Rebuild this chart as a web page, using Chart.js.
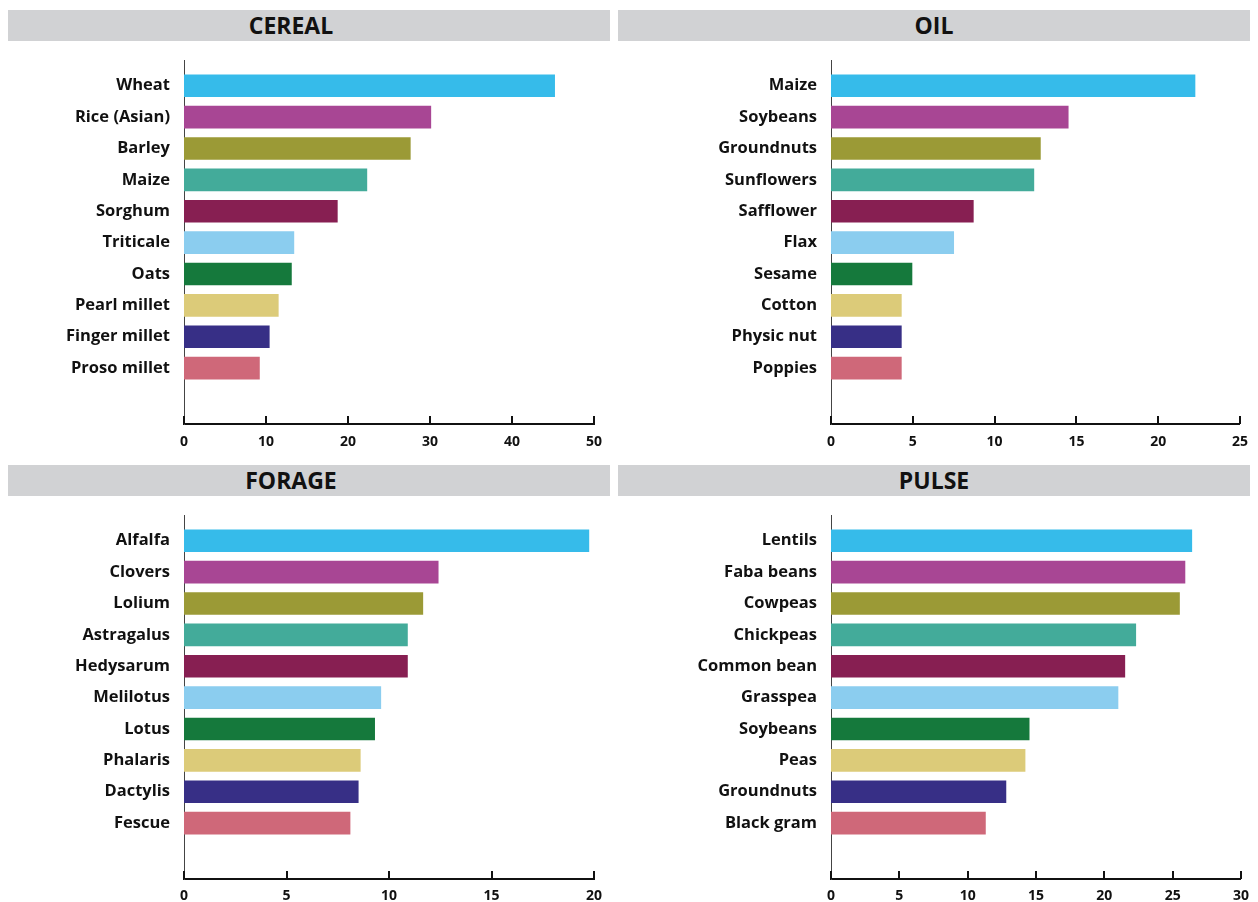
<!DOCTYPE html>
<html>
<head>
<meta charset="utf-8">
<script src="https://cdn.jsdelivr.net/npm/chart.js@4.4.1/dist/chart.umd.min.js"></script>
<style>
  body { margin: 0; background: #fff; font-family: "Open Sans", sans-serif; }
  #wrap { position: relative; width: 1258px; height: 902px; overflow: hidden; }
  .head {
    position: absolute; height: 31px; line-height: 31px; background: #d1d2d4;
    color: #111; font-weight: 700; font-size: 23px; text-align: center;
  }
  canvas { position: absolute; }
</style>
</head>
<body>
<div id="wrap">
  <div class="head" style="left:8px;top:10px;width:566px;padding-right:36px">CEREAL</div>
  <div class="head" style="left:618px;top:10px;width:632px;">OIL</div>
  <div class="head" style="left:8px;top:465px;width:566px;padding-right:36px">FORAGE</div>
  <div class="head" style="left:618px;top:465px;width:632px;">PULSE</div>
  <canvas id="cereal" width="618" height="419" style="left:0;top:41px"></canvas>
  <canvas id="oil" width="640" height="419" style="left:618px;top:41px"></canvas>
  <canvas id="forage" width="618" height="406" style="left:0;top:496px"></canvas>
  <canvas id="pulse" width="640" height="406" style="left:618px;top:496px"></canvas>
</div>
<script>
// same colour order in every panel, top bar to bottom bar
const barColors = ["#36bbea", "#a84694", "#9b9a36", "#43ab9a", "#871f52",
                   "#8bcdef", "#15793c", "#dccb79", "#372f86", "#cf6879"];

const cerealLabels = ["Wheat", "Rice (Asian)", "Barley", "Maize", "Sorghum",
                      "Triticale", "Oats", "Pearl millet", "Finger millet", "Proso millet"];
const cerealValues = [45.2, 30.1, 27.6, 22.3, 18.7, 13.4, 13.1, 11.5, 10.4, 9.2];

const oilLabels = ["Maize", "Soybeans", "Groundnuts", "Sunflowers", "Safflower",
                   "Flax", "Sesame", "Cotton", "Physic nut", "Poppies"];
const oilValues = [22.25, 14.5, 12.8, 12.4, 8.7, 7.5, 4.95, 4.3, 4.3, 4.3];

const forageLabels = ["Alfalfa", "Clovers", "Lolium", "Astragalus", "Hedysarum",
                      "Melilotus", "Lotus", "Phalaris", "Dactylis", "Fescue"];
const forageValues = [19.75, 12.4, 11.65, 10.9, 10.9, 9.6, 9.3, 8.6, 8.5, 8.1];

const pulseLabels = ["Lentils", "Faba beans", "Cowpeas", "Chickpeas", "Common bean",
                     "Grasspea", "Soybeans", "Peas", "Groundnuts", "Black gram"];
const pulseValues = [26.4, 25.9, 25.5, 22.3, 21.5, 21.0, 14.5, 14.2, 12.8, 11.3];

const cerealTicks = [0, 10, 20, 30, 40, 50];
const oilTicks = [0, 5, 10, 15, 20, 25];
const forageTicks = [0, 5, 10, 15, 20];
const pulseTicks = [0, 5, 10, 15, 20, 25, 30];

// small tick marks pointing up from the x axis line
const upTicks = {
  id: "upTicks",
  afterDraw(chart) {
    const ctx = chart.ctx, xs = chart.scales.x, bottom = chart.chartArea.bottom;
    ctx.save();
    ctx.strokeStyle = "#111";
    ctx.lineWidth = 2;
    xs.ticks.forEach(t => {
      const px = Math.round(xs.getPixelForValue(t.value));
      ctx.beginPath();
      ctx.moveTo(px, bottom - 8);
      ctx.lineTo(px, bottom);
      ctx.stroke();
    });
    ctx.restore();
  }
};

function makeChart(id, labels, values, ticks, axisW, padRight, xAxisH, labelPad) {
  new Chart(document.getElementById(id), {
    type: "bar",
    data: {
      datasets: [{
        data: values.map((v, i) => ({ x: v, y: i })),
        backgroundColor: barColors,
        borderWidth: 0,
        barThickness: 22
      }]
    },
    options: {
      indexAxis: "y",
      responsive: false,
      animation: false,
      layout: { padding: { top: 19, right: padRight, left: 0, bottom: 0 } },
      plugins: { legend: { display: false }, tooltip: { enabled: false } },
      scales: {
        x: {
          type: "linear",
          min: ticks[0],
          max: ticks[ticks.length - 1],
          afterBuildTicks: s => { s.ticks = ticks.map(v => ({ value: v })); },
          afterFit: s => { s.height = xAxisH; },
          grid: { display: false, drawTicks: false },
          border: { display: true, color: "#111", width: 2 },
          ticks: { color: "#111", padding: labelPad, font: { family: "Open Sans", weight: "700", size: 14 } }
        },
        y: {
          type: "linear",
          offset: false,
          reverse: true,
          min: -0.82,
          max: 10.78,
          afterBuildTicks: s => { s.ticks = labels.map((_, i) => ({ value: i })); },
          // fixed width, and no extra room asked for the label edges
          afterFit: s => { s.width = axisW; s.paddingTop = 0; s.paddingBottom = 0; },
          grid: { display: false, drawTicks: false, offset: false },
          border: { display: true, color: "#444", width: 1 },
          ticks: {
            color: "#111", padding: 14, autoSkip: false,
            font: { family: "Open Sans", weight: "700", size: 16.5 },
            callback: v => labels[v]
          }
        }
      }
    },
    plugins: [upTicks]
  });
}

makeChart("cereal", cerealLabels, cerealValues, cerealTicks, 184, 24, 36, 10);
makeChart("oil", oilLabels, oilValues, oilTicks, 213, 17, 36, 10);
makeChart("forage", forageLabels, forageValues, forageTicks, 184, 24, 23, 9);
makeChart("pulse", pulseLabels, pulseValues, pulseTicks, 213, 17, 23, 9);
</script>
</body>
</html>
